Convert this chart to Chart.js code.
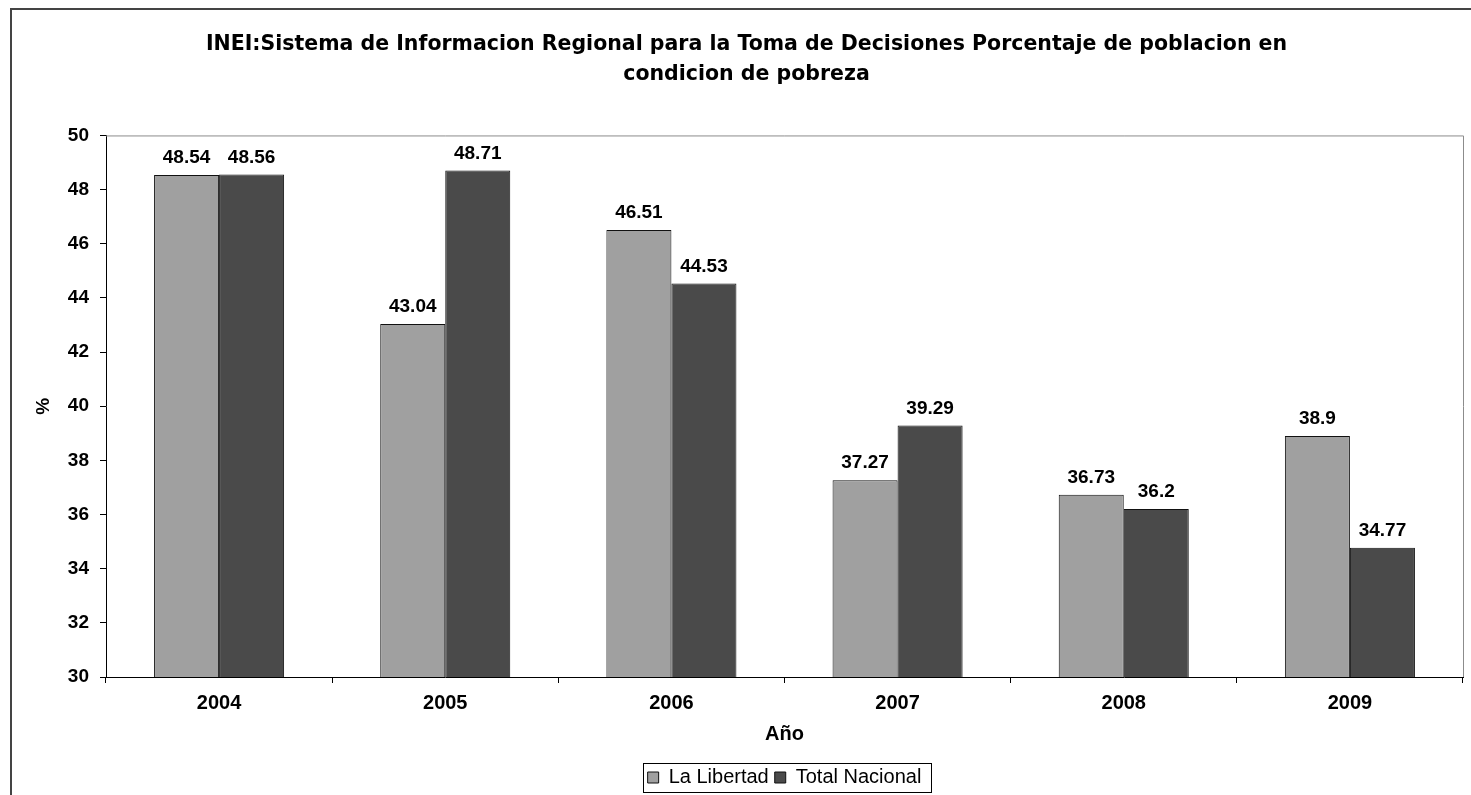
<!DOCTYPE html>
<html>
<head>
<meta charset="utf-8">
<script src="https://cdn.jsdelivr.net/npm/chart.js@4.4.1/dist/chart.umd.min.js"></script>
<style>
  html, body { margin: 0; padding: 0; background: #ffffff; }
  #c { display: block; }
</style>
</head>
<body>
<canvas id="c" width="1471" height="795"></canvas>
<script>
const categories = ['2004', '2005', '2006', '2007', '2008', '2009'];
const laLibertad = [48.54, 43.04, 46.51, 37.27, 36.73, 38.9];
const totalNacional = [48.56, 48.71, 44.53, 39.29, 36.2, 34.77];
const seriesNames = ['La Libertad', 'Total Nacional'];
const titleLines = ['INEI:Sistema de Informacion Regional para la Toma de Decisiones Porcentaje de poblacion en', 'condicion de pobreza'];
const xTitle = 'Año';
const yTitle = '%';
const yMin = 30, yMax = 50, yStep = 2;

const FONT = '"Liberation Sans", Arial, Helvetica, sans-serif';
const TITLE_FONT = '"DejaVu Sans", "Liberation Sans", Arial, sans-serif';
Chart.defaults.font.family = FONT;
Chart.defaults.color = '#000';

const PLOT = { left: 106, right: 1463, top: 135, bottom: 677 };

const framePlugin = {
  id: 'frame',
  afterLayout(chart) {
    const lg = chart.legend;
    if (lg) {
      const h = lg.height;
      lg.left = chart.chartArea.left;
      lg.right = chart.chartArea.right;
      lg.width = lg.right - lg.left;
      lg.top = 778 - 6 - 10.5;
      lg.bottom = lg.top + h;
    }
  },
  afterDraw(chart) {
    const ctx = chart.ctx;
    const a = chart.chartArea;
    ctx.save();
    // outer frame
    ctx.strokeStyle = '#444';
    ctx.lineWidth = 2;
    ctx.beginPath();
    ctx.moveTo(11, 795);
    ctx.lineTo(11, 9);
    ctx.lineTo(1471, 9);
    ctx.stroke();
    // plot area top/right
    ctx.strokeStyle = '#8c8c8c';
    ctx.lineWidth = 1;
    ctx.beginPath();
    ctx.moveTo(a.left, a.top + 0.5);
    ctx.lineTo(a.right + 0.5, a.top + 0.5);
    ctx.lineTo(a.right + 0.5, a.bottom);
    ctx.stroke();
    // legend border
    const hb = chart.legend && chart.legend.legendHitBoxes;
    if (hb && hb.length) {
      let l = Infinity, r = -Infinity, cy = 0;
      hb.forEach(b => { l = Math.min(l, b.left); r = Math.max(r, b.left + b.width); cy = b.top + b.height / 2; });
      ctx.strokeStyle = '#000';
      ctx.lineWidth = 1;
      ctx.strokeRect(Math.round(l - 5) + 0.5, Math.round(cy - 15) + 0.5, Math.round(r - l + 14), 29);
    }
    ctx.restore();
  },
  afterDatasetsDraw(chart) {
    const ctx = chart.ctx;
    ctx.save();
    ctx.font = 'bold 19px ' + FONT;
    ctx.fillStyle = '#000';
    ctx.textAlign = 'center';
    ctx.textBaseline = 'middle';
    chart.data.datasets.forEach((ds, di) => {
      const meta = chart.getDatasetMeta(di);
      meta.data.forEach((el, i) => {
        ctx.fillText(String(ds.data[i]), el.x, el.y - 17);
      });
    });
    ctx.restore();
  }
};

new Chart(document.getElementById('c'), {
  type: 'bar',
  data: {
    labels: categories,
    datasets: [
      { label: seriesNames[0], data: laLibertad, backgroundColor: '#a0a0a0', borderColor: '#111', borderWidth: 1, borderSkipped: false, categoryPercentage: 0.575, barPercentage: 1.0 },
      { label: seriesNames[1], data: totalNacional, backgroundColor: '#4a4a4a', borderColor: '#111', borderWidth: 1, borderSkipped: false, categoryPercentage: 0.575, barPercentage: 1.0 }
    ]
  },
  options: {
    responsive: false,
    animation: false,
    devicePixelRatio: 1,
    layout: { padding: { left: 30, right: 8, top: 0, bottom: 0 } },
    plugins: {
      title: {
        display: true,
        text: titleLines,
        font: { family: TITLE_FONT, size: 20.5, weight: 'bold', lineHeight: 1.45 },
        color: '#000',
        padding: { top: 30, bottom: 46 }
      },
      legend: {
        display: true,
        position: 'bottom',
        labels: {
          font: { size: 20, weight: 'normal' },
          color: '#000',
          boxWidth: 11,
          boxHeight: 11,
          padding: 6
        }
      },
      tooltip: { enabled: false }
    },
    scales: {
      x: {
        afterFit(scale) {
          const lg = scale.chart.legend;
          const lh = lg ? lg.height : 0;
          scale.height = 795 - lh - PLOT.bottom;
        },
        grid: { display: true, drawOnChartArea: false, drawTicks: true, tickLength: 6, color: '#000', offset: true },
        border: { display: true, color: '#000', width: 1 },
        ticks: { font: { size: 20, weight: 'bold' }, color: '#000', padding: 8 },
        title: { display: true, text: xTitle, font: { size: 20, weight: 'bold' }, color: '#000', padding: { top: 0, bottom: 13 } }
      },
      y: {
        min: yMin,
        max: yMax,
        afterFit(scale) { scale.width = PLOT.left - 30; },
        grid: { display: true, drawOnChartArea: false, drawTicks: true, tickLength: 6, color: '#000' },
        border: { display: true, color: '#000', width: 1 },
        ticks: { stepSize: yStep, font: { size: 19, weight: 'bold' }, color: '#000', padding: 11 },
        title: { display: true, text: yTitle, font: { size: 19, weight: 'bold' }, color: '#000', padding: { top: 2, bottom: 0 } }
      }
    }
  },
  plugins: [framePlugin]
});
</script>
</body>
</html>
